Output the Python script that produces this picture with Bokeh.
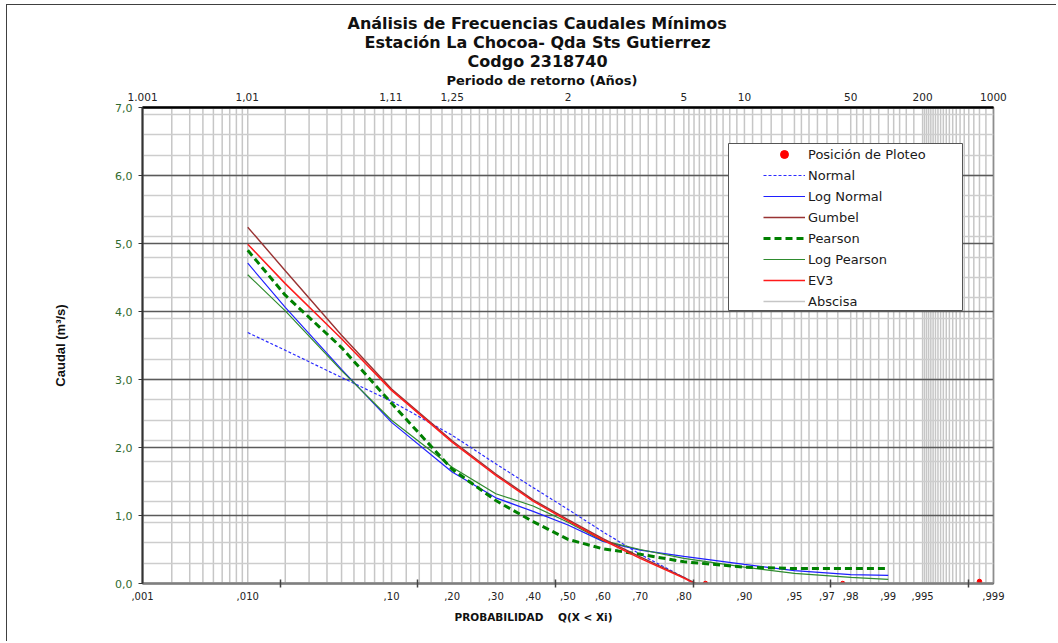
from statistics import NormalDist
import numpy as np
from bokeh.plotting import figure
from bokeh.models import (FixedTicker, LinearAxis, Range1d, Legend, LegendItem,
                          Title, BoxAnnotation)
from bokeh.embed import file_html
from bokeh.resources import INLINE

NaN = float("nan")
nd = NormalDist()


def zq(p):
    return nd.inv_cdf(p)


# ---------------- data ----------------
prob = [0.01, 0.02, 0.05, 0.10, 0.20, 0.30, 0.40, 0.50, 0.60, 0.70, 0.80, 0.90, 0.95, 0.98, 0.99]
q_normal = [3.69, 3.43, 3.03, 2.68, 2.18, 1.76, 1.41, 1.09, 0.76, 0.43, 0.09, -0.46, NaN, NaN, NaN]
q_lognormal = [4.71, 4.06, 3.15, 2.37, 1.64, 1.26, 1.06, 0.86, 0.62, 0.49, 0.40, 0.28, 0.19, 0.13, 0.12]
q_gumbel = [5.24, 4.60, 3.65, 2.86, 2.10, 1.61, 1.23, 0.94, 0.66, 0.39, 0.09, -0.36, NaN, NaN, NaN]
q_pearson = [4.90, 4.24, 3.47, 2.65, 1.68, 1.22, 0.91, 0.65, 0.51, 0.43, 0.32, 0.24, 0.22, 0.22, 0.22]
q_logpearson = [4.54, 4.01, 3.13, 2.40, 1.71, 1.32, 1.14, 0.90, 0.63, 0.50, 0.37, 0.24, 0.15, 0.09, 0.06]
q_ev3 = [4.99, 4.41, 3.60, 2.84, 2.08, 1.59, 1.21, 0.92, 0.64, 0.37, 0.08, -0.37, NaN, NaN, NaN]

plot_pos_prob = [0.841, 0.977, 0.9986]
plot_pos_q = [0.0, 0.0, 0.03]

# bottom axis labels (probability)
prob_ticks = [0.001, 0.01, 0.1, 0.2, 0.3, 0.4, 0.5, 0.6, 0.7, 0.8, 0.9, 0.95, 0.97, 0.98, 0.99, 0.995, 0.999]
prob_tick_labels = [",001", ",010", ",10", ",20", ",30", ",40", ",50", ",60", ",70", ",80",
                    ",90", ",95", ",97", ",98", ",99", ",995", ",999"]
# top axis labels (return period)
return_periods = [1.001, 1.01, 1.11, 1.25, 2, 5, 10, 50, 200, 1000]
return_period_labels = ["1.001", "1,01", "1,11", "1,25", "2", "5", "10", "50", "200", "1000"]
# y axis
y_ticks = [0, 1, 2, 3, 4, 5, 6, 7]
y_tick_labels = ["0,0", "1,0", "2,0", "3,0", "4,0", "5,0", "6,0", "7,0"]
y_minor_step = 0.3
# "Abscisa" vertical lines of the probability paper: (start, stop, step)
abscisa_segments = [(0.001, 0.010, 0.001), (0.01, 0.10, 0.01), (0.10, 0.80, 0.02),
                    (0.80, 0.95, 0.01), (0.95, 0.98, 0.005), (0.98, 0.99, 0.002),
                    (0.99, 0.995, 0.001), (0.995, 0.999, 0.0002)]
# -----------------------------------------------------------------

FONT = "DejaVu Sans"

x = [zq(p_) for p_ in prob]
abscisa_p = sorted({round(float(v), 5) for a, b, s in abscisa_segments
                    for v in np.arange(a, b + s / 2, s)})
abscisa_z = [zq(v) for v in abscisa_p]

z_lo = zq(0.000998)
z_hi = zq(0.999002)
y_lo, y_hi = y_ticks[0], y_ticks[-1]

p = figure(width=1050, height=637, x_range=Range1d(z_lo, z_hi), y_range=Range1d(y_lo, y_hi),
           output_backend="svg", toolbar_location=None, title=None,
           min_border_left=135, min_border_right=64, min_border_top=102, min_border_bottom=59)
p.background_fill_color = "white"
p.border_fill_color = "white"
p.outline_line_color = "#555555"
p.outline_line_width = 1.5
p.styles = {"margin-left": "6px", "margin-top": "4px",
            "border-left": "1px solid #404040", "border-top": "1px solid #404040"}

# grids
p.xgrid.visible = False
y_minor = [round(k * y_minor_step, 2) for k in range(int(y_hi / y_minor_step) + 1)]
p.ygrid[0].ticker = FixedTicker(ticks=y_ticks, minor_ticks=y_minor)
p.ygrid.grid_line_color = "#5A5A5A"
p.ygrid.grid_line_width = 1.5
p.ygrid.minor_grid_line_color = "#CDCDCD"
p.ygrid.minor_grid_line_width = 1.5

# bottom axis
xb = p.xaxis[0]
z_first = zq(prob_ticks[0])
excel_ticks = [z_first + k for k in range(1, 7)]
xb.ticker = FixedTicker(ticks=[zq(v) for v in prob_ticks], minor_ticks=excel_ticks)
xb.major_label_overrides = {zq(v): t for v, t in zip(prob_ticks, prob_tick_labels)}
xb.major_tick_in = 0
xb.major_tick_out = 0
xb.minor_tick_in = 4
xb.minor_tick_out = 4
xb.minor_tick_line_color = "#444444"
xb.minor_tick_line_width = 1.5
xb.axis_line_color = "#7F7F7F"
xb.axis_line_width = 2.5
xb.major_label_text_font = FONT
xb.major_label_text_font_size = "10px"
xb.major_label_text_color = "#222222"
xb.major_label_standoff = 4

# top axis (return period)
xt = LinearAxis(ticker=FixedTicker(ticks=[zq(1 - 1 / T) for T in return_periods]))
xt.major_label_overrides = {zq(1 - 1 / T): t for T, t in zip(return_periods, return_period_labels)}
xt.major_tick_in = 0
xt.major_tick_out = 0
xt.minor_tick_in = 0
xt.minor_tick_out = 0
xt.axis_line_color = "#000000"
xt.axis_line_width = 2.5
xt.major_label_text_font = FONT
xt.major_label_text_font_size = "10.5px"
xt.major_label_text_color = "#222222"
xt.major_label_standoff = 7
p.add_layout(xt, "above")

# y axis
ya = p.yaxis[0]
ya.ticker = FixedTicker(ticks=y_ticks)
ya.major_label_overrides = {v: t for v, t in zip(y_ticks, y_tick_labels)}
ya.major_tick_out = 4
ya.major_tick_in = 0
ya.major_tick_line_color = "#333333"
ya.axis_line_color = "#333333"
ya.axis_line_width = 2
ya.major_label_text_font = FONT
ya.major_label_text_font_size = "11px"
ya.major_label_text_color = "#2F6B2F"
ya.major_label_standoff = 6
ya.axis_label = "Caudal (m³/s)"
ya.axis_label_text_font = "Liberation Sans"
ya.axis_label_text_font_style = "bold"
ya.axis_label_text_font_size = "13px"
ya.axis_label_text_color = "#111111"
ya.axis_label_standoff = 44

# titles (closest to the plot first)
for text, size, off, so in [("Periodo de retorno (Años)", "13px", 304, 2.5),
                            ("Codgo 2318740", "16px", 325, -2.5),
                            ("Estación La Chocoa- Qda Sts Gutierrez", "16px", 222, -2.5),
                            ("Análisis de Frecuencias Caudales Mínimos", "16px", 205, -2.5)]:
    p.add_layout(Title(text=text, align="left", offset=off, standoff=so,
                       text_font=FONT, text_font_style="bold", text_font_size=size,
                       text_color="#111111"), "above")

p.add_layout(Title(text="PROBABILIDAD \u00a0 \u00a0Q(X < Xi)", align="left", offset=312,
                   standoff=16, vertical_align="top",
                   text_font=FONT, text_font_style="bold", text_font_size="10.5px",
                   text_color="#111111"), "below")

# series
n_abs = len(abscisa_z)
r_abs = p.segment(x0=abscisa_z, y0=[y_lo] * n_abs, x1=abscisa_z, y1=[y_hi] * n_abs,
                  line_color="#C6C6C6", line_width=1.5, level="underlay")
r_normal = p.line(x, q_normal, line_color="#2B2BFF", line_width=1.2, line_dash="3 2")
r_lognormal = p.line(x, q_lognormal, line_color="#1F1FFF", line_width=1.2)
r_logpearson = p.line(x, q_logpearson, line_color="#2E8B2E", line_width=1.2)
r_pearson = p.line(x, q_pearson, line_color="#008000", line_width=3, line_dash="7 4")
r_gumbel = p.line(x, q_gumbel, line_color="#993333", line_width=1.4)
r_ev3 = p.line(x, q_ev3, line_color="#FF1A1A", line_width=1.5)
r_pts = p.scatter([zq(v) for v in plot_pos_prob], plot_pos_q, size=4.5,
                  fill_color="#FF0000", line_color="#FF0000")

# legend frame + legend
box = BoxAnnotation(left=586, right=820, bottom=273, top=440,
                    left_units="screen", right_units="screen",
                    top_units="screen", bottom_units="screen",
                    fill_color="white", fill_alpha=1.0,
                    line_color="#555555", line_width=1, line_alpha=1.0)
p.add_layout(box)

legend = Legend(items=[
    LegendItem(label="Posición de Ploteo", renderers=[r_pts]),
    LegendItem(label="Normal", renderers=[r_normal]),
    LegendItem(label="Log Normal", renderers=[r_lognormal]),
    LegendItem(label="Gumbel", renderers=[r_gumbel]),
    LegendItem(label="Pearson", renderers=[r_pearson]),
    LegendItem(label="Log Pearson", renderers=[r_logpearson]),
    LegendItem(label="EV3", renderers=[r_ev3]),
    LegendItem(label="Abscisa", renderers=[r_abs]),
], location=(619, 270), padding=2, spacing=1, margin=0,
    glyph_width=42, glyph_height=20, label_height=20, label_standoff=3,
    border_line_alpha=0, background_fill_alpha=0,
    label_text_font=FONT, label_text_font_size="13px", label_text_color="#1A1A1A")
p.add_layout(legend)

open("out.html", "w").write(file_html(p, INLINE))
